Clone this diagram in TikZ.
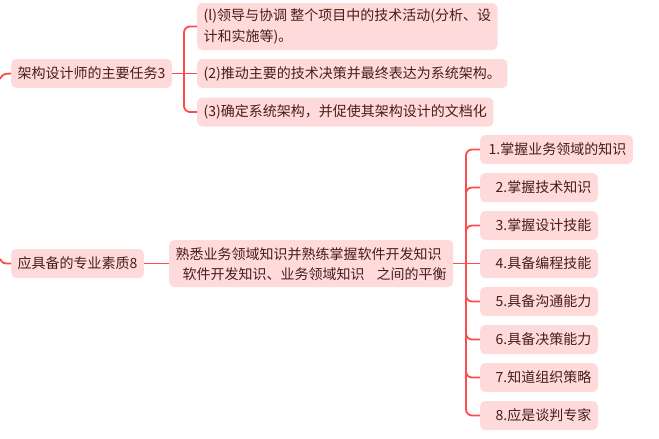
\documentclass[tikz,border=0pt]{standalone}
\usepackage{fontspec}
\setmainfont{Noto Sans CJK SC}
\definecolor{boxfill}{HTML}{FFDADA}
\definecolor{boxtext}{HTML}{4A1C1C}
\definecolor{linkred}{HTML}{FF4B4B}

\begin{document}
\begin{tikzpicture}[x=1pt, y=-1pt,
    every node/.style={font=\fontsize{14}{20.5}\selectfont, text=boxtext},
    topic/.style={fill=boxfill, rounded corners=5pt, anchor=west,
      inner xsep=6.5pt, inner ysep=0pt, minimum height=29pt},
    duty/.style={topic, align=left},
    skill/.style={topic, minimum width=117pt},
    link/.style={draw=linkred, line width=1.8pt}]
  \useasboundingbox (0,0) rectangle (659,439);

  % upper branch: main tasks
  \node[topic] (tasks) at (11,73.5) {架构设计师的主要任务3};
  \node[duty, minimum height=47pt] (task1) at (197,26.5)
    {(l)领导与协调 整个项目中的技术活动(分析、设\\计和实施等)。};
  \node[duty] (task2) at (197,73.5) {(2)推动主要的技术决策并最终表达为系统架构。};
  \node[duty] (task3) at (197,112) {(3)确定系统架构，并促使其架构设计的文档化};

  \coordinate (in1) at (0,79);
  \coordinate (bus1) at (184,73.5);
  \draw[link] (in1) .. controls (3,74) .. (tasks.west);
  \draw[link] (tasks.east) -- (task2.west);
  \draw[link, rounded corners=6pt] (bus1) |- (task1.west);
  \draw[link, rounded corners=6pt] (bus1) |- (task3.west);

  % lower branch: required qualities
  \node[topic] (skills) at (11,263.5) {应具备的专业素质8};
  \node[duty, minimum height=47pt, text depth=0pt] (balance) at (169,263.5)
    {熟悉业务领域知识并熟练掌握软件开发知识\\
     \hspace*{7pt}软件开发知识、业务领域知识\hspace{12pt}之间的平衡};

  \node[topic] (s1) at (480,149.5) {\hspace*{2pt}1.掌握业务领域的知识};
  \node[skill] (s2) at (480,187.5) {\hspace*{9pt}2.掌握技术知识};
  \node[skill] (s3) at (480,225.5) {\hspace*{9pt}3.掌握设计技能};
  \node[skill] (s4) at (480,263.5) {\hspace*{9pt}4.具备编程技能};
  \node[skill] (s5) at (480,301.5) {\hspace*{9pt}5.具备沟通能力};
  \node[skill] (s6) at (480,339.5) {\hspace*{9pt}6.具备决策能力};
  \node[skill] (s7) at (480,377.5) {\hspace*{9pt}7.知道组织策略};
  \node[skill] (s8) at (480,415.5) {\hspace*{9pt}8.应是谈判专家};

  \coordinate (in2) at (0,259);
  \coordinate (bus2) at (466,263.5);
  \draw[link] (in2) .. controls (3,263.5) .. (skills.west);
  \draw[link] (skills.east) -- (balance.west);
  \draw[link] (balance.east) -- (s4.west);
  \draw[link, rounded corners=6pt] (bus2) |- (s1.west);
  \draw[link, rounded corners=6pt] (bus2) |- (s2.west);
  \draw[link, rounded corners=6pt] (bus2) |- (s3.west);
  \draw[link, rounded corners=6pt] (bus2) |- (s5.west);
  \draw[link, rounded corners=6pt] (bus2) |- (s6.west);
  \draw[link, rounded corners=6pt] (bus2) |- (s7.west);
  \draw[link, rounded corners=6pt] (bus2) |- (s8.west);
\end{tikzpicture}
\end{document}
